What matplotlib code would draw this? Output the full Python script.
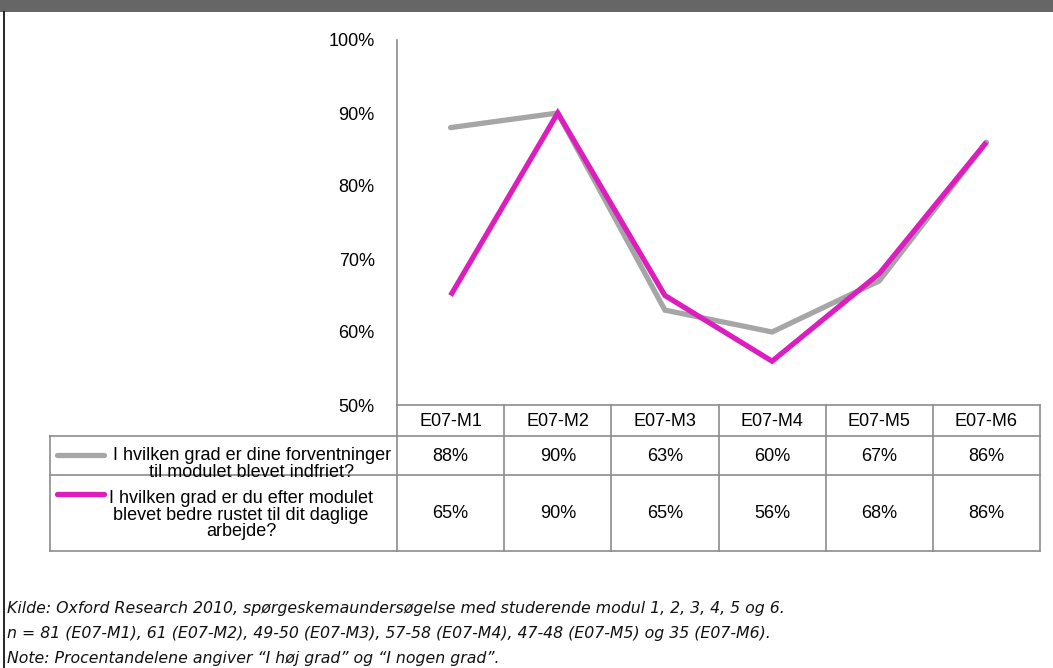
import matplotlib
matplotlib.use("Agg")
import matplotlib.pyplot as plt
from matplotlib.lines import Line2D
from matplotlib.patches import Rectangle

categories = ["E07-M1", "E07-M2", "E07-M3", "E07-M4", "E07-M5", "E07-M6"]
forventninger = [88, 90, 63, 60, 67, 86]
rustet = [65, 90, 65, 56, 68, 86]
series_labels = ["I hvilken grad er dine forventninger\ntil modulet blevet indfriet?",
                 "I hvilken grad er du efter modulet\nblevet bedre rustet til dit daglige\narbejde?"]
yticks = [50, 60, 70, 80, 90, 100]
notes = ["Kilde: Oxford Research 2010, spørgeskemaundersøgelse med studerende modul 1, 2, 3, 4, 5 og 6.",
         "n = 81 (E07-M1), 61 (E07-M2), 49-50 (E07-M3), 57-58 (E07-M4), 47-48 (E07-M5) og 35 (E07-M6).",
         "Note: Procentandelene angiver \u201cI høj grad\u201d og \u201cI nogen grad\u201d."]

W, H = 1053, 668
GRAY = "#A6A6A6"
MAG = "#DC1EBE"
GRID = "#8C8C8C"
FONT = ["Liberation Sans", "DejaVu Sans"]
NFONT = ["DejaVu Sans"]

fig = plt.figure(figsize=(W / 100, H / 100), dpi=100)

def fx(px):
    return px / W

def fy(py):
    return 1 - py / H

# header bar and frame
fig.add_artist(Rectangle((0, fy(12)), 1, 12 / H, transform=fig.transFigure,
                         facecolor="#666666", edgecolor="none"))
fig.add_artist(Line2D([fx(3.5), fx(3.5)], [fy(12), 0], transform=fig.transFigure,
                      color="black", lw=1.2))

# plot axes
x0, x1, ytop, ybot = 397, 1040, 40, 405
ax = fig.add_axes([fx(x0), fy(ybot), fx(x1 - x0), (ybot - ytop) / H])
n = len(categories)
xs = list(range(n))
ax.plot(xs, forventninger, color=GRAY, lw=3.8, solid_capstyle="round",
        solid_joinstyle="miter", zorder=2)
ax.plot(xs, rustet, color=MAG, lw=3.8, solid_capstyle="butt",
        solid_joinstyle="miter", zorder=3)
ax.set_xlim(-0.5, n - 0.5)
ax.set_ylim(50, 100)
ax.set_yticks(yticks)
ax.set_yticklabels([f"{v}%" for v in yticks], fontfamily=FONT, fontsize=13)
ax.set_xticks([])
ax.tick_params(axis="y", length=0, pad=16)
for s in ["top", "right", "bottom"]:
    ax.spines[s].set_visible(False)
ax.spines["left"].set_color(GRID)
ax.spines["left"].set_linewidth(1.2)
ax.patch.set_alpha(0)

# data table
colw = (x1 - x0) / n
row_edges = [405, 436, 475, 551]
label_x0 = 50
lkw = dict(transform=fig.transFigure, color=GRID, lw=1.2)
fig.add_artist(Line2D([fx(x0), fx(x1)], [fy(row_edges[0])] * 2, **lkw))
for ry in row_edges[1:]:
    fig.add_artist(Line2D([fx(label_x0), fx(x1)], [fy(ry)] * 2, **lkw))
for i in range(n + 1):
    xx = x0 + i * colw
    fig.add_artist(Line2D([fx(xx)] * 2, [fy(row_edges[0]), fy(row_edges[-1])], **lkw))
fig.add_artist(Line2D([fx(label_x0)] * 2, [fy(row_edges[1]), fy(row_edges[-1])], **lkw))

tkw = dict(transform=fig.transFigure, fontfamily=FONT, fontsize=13, color="black",
           ha="center", va="center")
for i, c in enumerate(categories):
    fig.text(fx(x0 + (i + 0.5) * colw), fy((row_edges[0] + row_edges[1]) / 2 + 1), c, **tkw)

label_cx = [252, 241]
label_cy = [464, 515]
for r, (vals, col, lab) in enumerate([(forventninger, GRAY, series_labels[0]),
                                      (rustet, MAG, series_labels[1])]):
    yc = (row_edges[r + 1] + row_edges[r + 2]) / 2
    for i, v in enumerate(vals):
        fig.text(fx(x0 + (i + 0.5) * colw), fy(yc + 1), f"{v}%", **tkw)
    ky = row_edges[r + 1] + 19
    fig.add_artist(Line2D([fx(57), fx(104)], [fy(ky)] * 2, transform=fig.transFigure,
                          color=col, lw=3.8, solid_capstyle="round"))
    fig.text(fx(label_cx[r]), fy(label_cy[r]), lab, transform=fig.transFigure, fontfamily=FONT,
             fontsize=13, ha="center", va="center", multialignment="center",
             linespacing=0.95)

# footnotes
for k, t in enumerate(notes):
    fig.text(fx(7), fy(608 + 25.5 * k), t, fontfamily=NFONT, style="italic",
             fontsize=11.3, color="#111111", ha="left", va="center")

fig.savefig("out.png", dpi=100, facecolor="white")
